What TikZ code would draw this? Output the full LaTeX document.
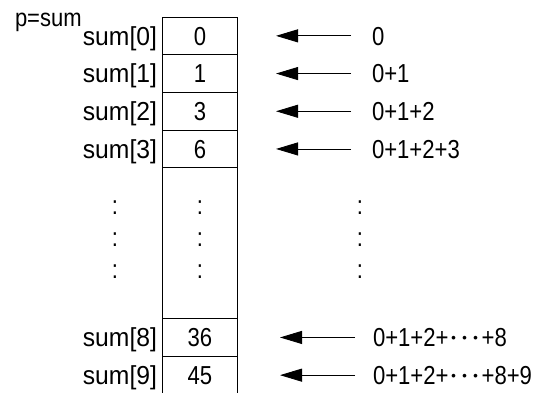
\documentclass[tikz,border=0pt]{standalone}
\usepackage{fontspec}
\setmainfont[FakeStretch=0.85]{Liberation Sans}
\newfontfamily\latw[FakeStretch=0.95]{Liberation Sans}
\newfontfamily\latp[FakeStretch=0.88]{Liberation Sans}
\newfontfamily\cjk{Noto Sans CJK JP}
\usetikzlibrary{arrows.meta}
\newcommand{\mdots}{{\fontsize{22}{26}\cjk ･･･}}
\begin{document}
\begin{tikzpicture}[x=1pt,y=-1pt,
  every node/.style={font=\fontsize{26}{30}\selectfont, inner sep=0pt, outer sep=0pt},
  cell/.style={draw=black, line width=1pt, minimum width=75.4pt, minimum height=37.7pt},
  lbl/.style={anchor=base east, font=\fontsize{26}{30}\latw},
  expr/.style={anchor=base west},
  arr/.style={line width=0.9pt, -{Triangle[length=22pt,width=13pt]}},
  vdots/.style={anchor=center}]
\useasboundingbox (0,0) rectangle (533,392);
% cells
\node[cell] (c0) at (200,35.85) {};
\node[cell] (c1) at (200,73.55) {};
\node[cell] (c2) at (200,111.25) {};
\node[cell] (c3) at (200,148.95) {};
\node[cell, minimum height=150.8pt] (cm) at (200,243.2) {};
\node[cell] (c8) at (200,337.45) {};
\node[cell] (c9) at (200,375.15) {};
% values
\node[anchor=base] (v0) at (200,45.1) {0};
\node[anchor=base] (v1) at (200,82.8) {1};
\node[anchor=base] (v2) at (200,120.5) {3};
\node[anchor=base] (v3) at (200,158.2) {6};
\node[anchor=base] (v8) at (200,346.7) {36};
\node[anchor=base] (v9) at (200,384.4) {45};
% index labels
\node[anchor=base west, font=\fontsize{25}{30}\latp] (p) at (15,26) {p=sum};
\node[lbl] (s0) at (157,45.1) {sum[0]};
\node[lbl] (s1) at (157,82.8) {sum[1]};
\node[lbl] (s2) at (157,120.5) {sum[2]};
\node[lbl] (s3) at (157,158.2) {sum[3]};
\node[lbl] (s8) at (157,346.7) {sum[8]};
\node[lbl] (s9) at (157,384.4) {sum[9]};
% vertical dots
\foreach \x/\n in {115/a,200/b,360/c}{
  \node[vdots] (d1\n) at (\x,207.5) {:};
  \node[vdots] (d2\n) at (\x,239.5) {:};
  \node[vdots] (d3\n) at (\x,271.5) {:};
}
% expressions
\node[expr] (e0) at (372,45.1) {0};
\node[expr] (e1) at (372,82.8) {0+1};
\node[expr] (e2) at (372,120.5) {0+1+2};
\node[expr] (e3) at (372,158.2) {0+1+2+3};
\node[expr] (e8) at (373,346.7) {0+1+2+\mdots+8};
\node[expr] (e9) at (373,384.4) {0+1+2+\mdots+8+9};
% arrow tips
\coordinate (t0) at (276,35.85);
\coordinate (t1) at (276,73.55);
\coordinate (t2) at (276,111.25);
\coordinate (t3) at (276,148.95);
\coordinate (t8) at (280,337.45);
\coordinate (t9) at (280,375.15);
\draw[arr] (t0 -| 351,0) -- (t0);
\draw[arr] (t1 -| 351,0) -- (t1);
\draw[arr] (t2 -| 351,0) -- (t2);
\draw[arr] (t3 -| 351,0) -- (t3);
\draw[arr] (t8 -| 355,0) -- (t8);
\draw[arr] (t9 -| 355,0) -- (t9);
\end{tikzpicture}
\end{document}
